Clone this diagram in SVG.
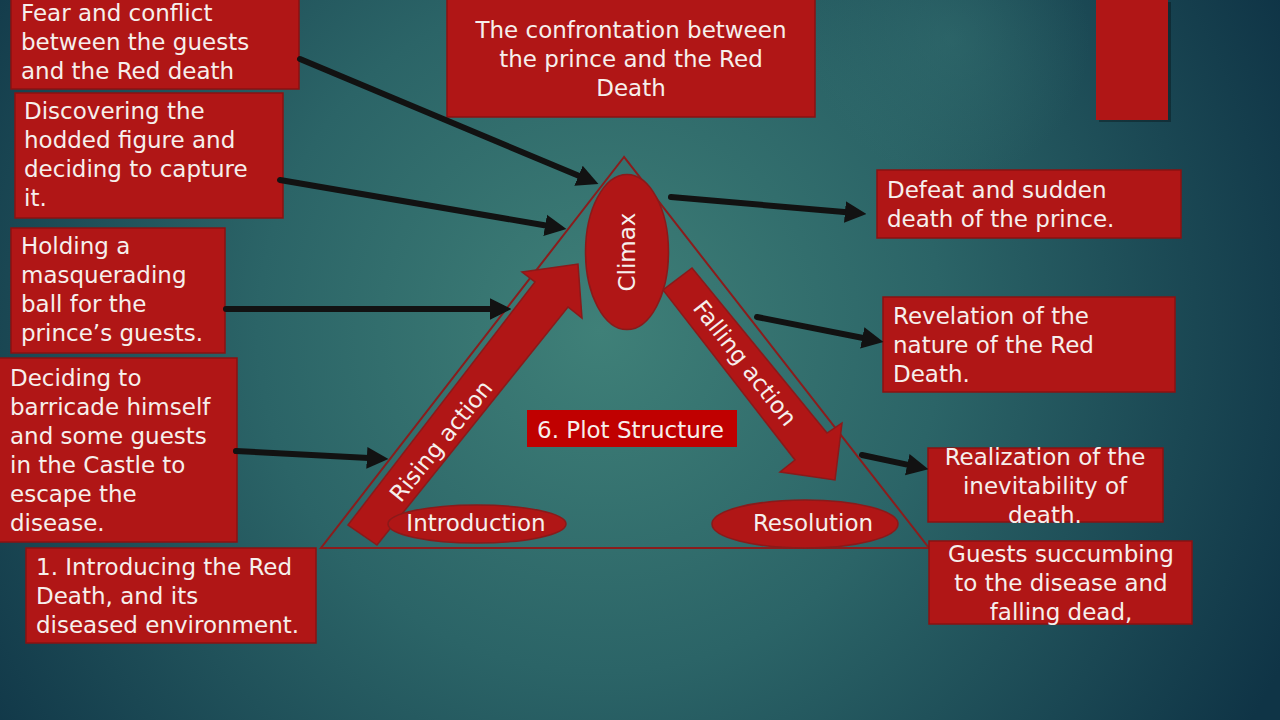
<svg xmlns="http://www.w3.org/2000/svg" width="1280" height="720" viewBox="0 0 1280 720">
  <defs>
    <radialGradient id="bg" cx="600" cy="330" r="760" gradientUnits="userSpaceOnUse">
      <stop offset="0" stop-color="#3f8078"/>
      <stop offset="0.45" stop-color="#2b6467"/>
      <stop offset="1" stop-color="#0f3446"/>
    </radialGradient>
    <radialGradient id="spot" cx="950" cy="40" r="140" gradientUnits="userSpaceOnUse">
      <stop offset="0" stop-color="#3a7a78" stop-opacity="0.35"/>
      <stop offset="1" stop-color="#3a7a78" stop-opacity="0"/>
    </radialGradient>
    <marker id="ah" viewBox="0 0 10 10" refX="1" refY="5" markerWidth="3.6" markerHeight="4" orient="auto" markerUnits="strokeWidth">
      <path d="M0,0 L10,5 L0,10 z" fill="#121212"/>
    </marker>
    <style>
      .box { fill: #b01616; stroke: #8a1212; stroke-width: 1.5; }
      .t { font-family: "DejaVu Sans", "Liberation Sans", sans-serif; font-size: 23px; fill: #f6efec; }
      .c { text-anchor: middle; }
      .shape { fill: #b01616; stroke: #8a1a1a; stroke-width: 1.5; }
      .conn { stroke: #121212; stroke-width: 6; fill: none; stroke-linecap: round; marker-end: url(#ah); }
    </style>
  </defs>

  <rect x="0" y="0" width="1280" height="720" fill="url(#bg)"/>
  <rect x="0" y="0" width="1280" height="720" fill="url(#spot)"/>

  <g id="triangle">
    <polygon points="624,157 321,548 929,548" fill="none" stroke="#8b1c1c" stroke-width="2"/>
  </g>

  <g id="rising-arrow">
    <polygon class="shape" points="348,525 535,282 522,272 578,264 582,318 568,307 377,545"/>
    <text class="t c" transform="translate(441,441) rotate(-51)" y="8">Rising action</text>
  </g>

  <g id="falling-arrow">
    <polygon class="shape" points="692,268 827,433 842,423 835,480 780,472 795,460 663,290"/>
    <text class="t c" transform="translate(745,363) rotate(52)" y="8">Falling action</text>
  </g>

  <g id="climax">
    <ellipse class="shape" cx="627" cy="252" rx="41.5" ry="77.5"/>
    <text class="t c" transform="translate(627,252) rotate(-90)" y="8">Climax</text>
  </g>

  <g id="introduction">
    <ellipse class="shape" cx="477" cy="524" rx="89" ry="19"/>
    <text class="t c" x="476" y="531">Introduction</text>
  </g>

  <g id="resolution">
    <ellipse class="shape" cx="805" cy="524" rx="93" ry="24"/>
    <text class="t c" x="813" y="531">Resolution</text>
  </g>

  <g id="plot-structure">
    <rect x="527" y="410" width="210" height="37" fill="#c00000"/>
    <text class="t" x="537" y="438">6. Plot Structure</text>
  </g>

  <g id="box-fear">
    <rect class="box" x="11" y="-2" width="288" height="91"/>
    <text class="t" x="21" y="21">Fear and conflict</text>
    <text class="t" x="21" y="50">between the guests</text>
    <text class="t" x="21" y="79">and the Red death</text>
  </g>

  <g id="box-discovering">
    <rect class="box" x="15" y="93" width="268" height="125"/>
    <text class="t" x="24" y="119">Discovering the</text>
    <text class="t" x="24" y="148">hodded figure and</text>
    <text class="t" x="24" y="177">deciding to capture</text>
    <text class="t" x="24" y="206">it.</text>
  </g>

  <g id="box-holding">
    <rect class="box" x="11" y="228" width="214" height="125"/>
    <text class="t" x="21" y="254">Holding a</text>
    <text class="t" x="21" y="283">masquerading</text>
    <text class="t" x="21" y="312">ball for the</text>
    <text class="t" x="21" y="341">prince’s guests.</text>
  </g>

  <g id="box-deciding">
    <rect class="box" x="-2" y="358" width="239" height="184"/>
    <text class="t" x="10" y="386">Deciding to</text>
    <text class="t" x="10" y="415">barricade himself</text>
    <text class="t" x="10" y="444">and some guests</text>
    <text class="t" x="10" y="473">in the Castle to</text>
    <text class="t" x="10" y="502">escape the</text>
    <text class="t" x="10" y="531">disease.</text>
  </g>

  <g id="box-introducing">
    <rect class="box" x="26" y="548" width="290" height="95"/>
    <text class="t" x="36" y="575">1. Introducing the Red</text>
    <text class="t" x="36" y="604">Death, and its</text>
    <text class="t" x="36" y="633">diseased environment.</text>
  </g>

  <g id="box-confrontation">
    <rect class="box" x="447" y="-2" width="368" height="119"/>
    <text class="t c" x="631" y="38">The confrontation between</text>
    <text class="t c" x="631" y="67">the prince and the Red</text>
    <text class="t c" x="631" y="96">Death</text>
  </g>

  <g id="box-topright">
    <rect x="1099" y="2" width="72" height="120" fill="#000" opacity="0.3"/>
    <rect x="1096" y="-2" width="72" height="122" fill="#b01616"/>
  </g>

  <g id="box-defeat">
    <rect class="box" x="877" y="170" width="304" height="68"/>
    <text class="t" x="887" y="198">Defeat and sudden</text>
    <text class="t" x="887" y="227">death of the prince.</text>
  </g>

  <g id="box-revelation">
    <rect class="box" x="883" y="297" width="292" height="95"/>
    <text class="t" x="893" y="324">Revelation of the</text>
    <text class="t" x="893" y="353">nature of the Red</text>
    <text class="t" x="893" y="382">Death.</text>
  </g>

  <g id="box-realization">
    <rect class="box" x="928" y="448" width="235" height="74"/>
    <text class="t c" x="1045" y="465">Realization of the</text>
    <text class="t c" x="1045" y="494">inevitability of</text>
    <text class="t c" x="1045" y="523">death.</text>
  </g>

  <g id="box-guests">
    <rect class="box" x="929" y="541" width="263" height="83"/>
    <text class="t c" x="1061" y="562">Guests succumbing</text>
    <text class="t c" x="1061" y="591">to the disease and</text>
    <text class="t c" x="1061" y="620">falling dead,</text>
  </g>

  <g id="connectors">
    <line class="conn" x1="300" y1="59" x2="580.5" y2="176.6"/>
    <line class="conn" x1="280" y1="180" x2="547.3" y2="225.8"/>
    <line class="conn" x1="226" y1="309" x2="492" y2="309"/>
    <line class="conn" x1="236" y1="451" x2="369" y2="458"/>
    <line class="conn" x1="671" y1="197" x2="847.1" y2="212.3"/>
    <line class="conn" x1="757" y1="317" x2="864.4" y2="338.3"/>
    <line class="conn" x1="862" y1="455" x2="909.4" y2="465.1"/>
  </g>
</svg>
